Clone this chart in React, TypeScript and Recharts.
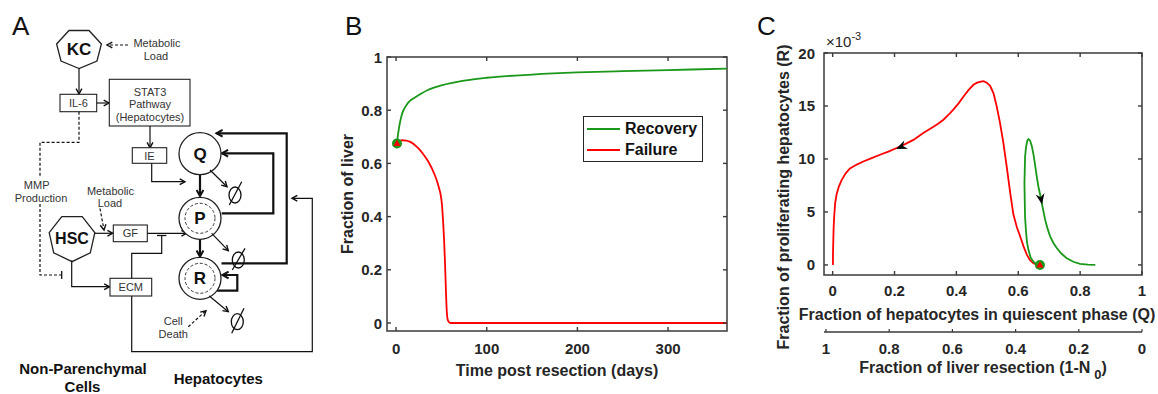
import React from 'react';
import { LineChart, Line, XAxis, YAxis, ReferenceDot, ReferenceArea, Legend } from 'recharts';

const FONT = "'Liberation Sans', Arial, Helvetica, sans-serif";
const AX = '#262626';
const FRAME = '#3a3a3a';
const GREEN = '#1a981a';
const RED = '#ff0000';

// ---------- Panel B data ----------
const SERIES_NAMES = ['Recovery', 'Failure'];
const B_REC_T = [1, 2, 3, 4, 5.5, 7, 9, 12, 15, 20, 27, 35, 50, 75, 100, 150, 200, 250, 300, 365];
const B_REC_V = [0.675, 0.705, 0.728, 0.748, 0.772, 0.79, 0.806, 0.822, 0.834, 0.846, 0.861, 0.876, 0.893, 0.911, 0.922, 0.934, 0.942, 0.947, 0.951, 0.956];
const B_FAIL_T = [1, 4, 7, 11, 15, 19, 22, 26, 29, 33, 37, 40, 42, 45, 47, 49, 50.5, 52, 53, 54, 55, 56, 57, 58.5, 60, 65, 100, 200, 300, 365];
const B_FAIL_V = [0.675, 0.684, 0.687, 0.686, 0.682, 0.674, 0.665, 0.652, 0.639, 0.62, 0.598, 0.578, 0.562, 0.535, 0.512, 0.485, 0.45, 0.375, 0.31, 0.225, 0.12, 0.04, 0.012, 0.003, 0, 0, 0, 0, 0, 0];
const B_X_TICKS = [0, 100, 200, 300];
const B_Y_TICKS = [0, 0.2, 0.4, 0.6, 0.8, 1];
const B_X_DOMAIN = [-10, 365];
const B_Y_DOMAIN = [-0.03, 1];
const B_START = { t: 1, v: 0.675 };

// ---------- Panel C data (R in units of 1e-3) ----------
const C_FAIL_Q = [0.670, 0.660, 0.649, 0.638, 0.628, 0.617, 0.606, 0.595, 0.584, 0.574, 0.563, 0.552, 0.541, 0.530, 0.520, 0.509, 0.498, 0.488, 0.479, 0.467, 0.455, 0.439, 0.423, 0.407, 0.390, 0.374, 0.358, 0.342, 0.326, 0.310, 0.293, 0.277, 0.261, 0.234, 0.207, 0.180, 0.153, 0.126, 0.099, 0.078, 0.056, 0.042, 0.029, 0.020, 0.013, 0.008, 0.005, 0.003, 0.002, 0.001, 0.001];
const C_FAIL_R = [0, 0.03, 0.16, 0.45, 0.95, 1.75, 2.7, 3.6, 4.8, 6.8, 9.2, 11.5, 13.4, 15.0, 16.2, 16.9, 17.2, 17.35, 17.3, 17.2, 17.0, 16.5, 15.9, 15.25, 14.65, 14.15, 13.7, 13.35, 13.05, 12.75, 12.45, 12.13, 11.8, 11.4, 11.03, 10.7, 10.4, 10.08, 9.76, 9.47, 9.1, 8.65, 8.0, 7.4, 6.7, 5.8, 4.6, 3.4, 2.2, 1.0, 0];
const C_REC_Q = [0.670, 0.660, 0.649, 0.640, 0.633, 0.628, 0.625, 0.622, 0.621, 0.620, 0.621, 0.622, 0.625, 0.629, 0.633, 0.638, 0.644, 0.650, 0.655, 0.660, 0.665, 0.671, 0.677, 0.687, 0.695, 0.703, 0.714, 0.725, 0.740, 0.757, 0.778, 0.800, 0.825, 0.849];
const C_REC_R = [0, 0.05, 0.3, 0.7, 1.4, 2.2, 3.2, 4.5, 6.0, 7.7, 9.0, 10.2, 11.1, 11.7, 11.88, 11.75, 11.2, 10.3, 9.3, 8.3, 7.4, 6.6, 5.7, 4.25, 3.4, 2.7, 2.05, 1.57, 1.05, 0.63, 0.3, 0.1, 0.02, 0];
const C_X_TICKS = [0, 0.2, 0.4, 0.6, 0.8, 1];
const C_Y_TICKS = [0, 5, 10, 15, 20];
const C_N0_TICKS = [0, 0.2, 0.4, 0.6, 0.8, 1];
const C_X_DOMAIN = [-0.028, 1];
const C_Y_DOMAIN = [-0.95, 20];
const C_N0_DOMAIN = [0, 1];
const C_START = { q: 0.67, r: 0 };
const C_ARROWS = [
  { q: 0.205, r: 10.94, angle: 156 },
  { q: 0.677, r: 5.7, angle: 79 },
];

const bRecovery = B_REC_T.map((t, i) => ({ t, v: B_REC_V[i] }));
const bFailure = B_FAIL_T.map((t, i) => ({ t, v: B_FAIL_V[i] }));
const cRecovery = C_REC_Q.map((q, i) => ({ q, r: C_REC_R[i] }));
const cFailure = C_FAIL_Q.map((q, i) => ({ q, r: C_FAIL_R[i] }));
const cN0Span = C_N0_DOMAIN.map((n) => ({ n, r: 0 }));

// tick-mark anchor points on the four sides of each box
const sideTicks = (xt: number[], yt: number[], xd: number[], yd: number[]) => [
  ...xt.map((x) => ({ x, y: yd[0], dir: 'up' })),
  ...xt.map((x) => ({ x, y: yd[1], dir: 'down' })),
  ...yt.map((y) => ({ x: xd[0], y, dir: 'right' })),
  ...yt.map((y) => ({ x: xd[1], y, dir: 'left' })),
];
const bTickMarks = sideTicks(B_X_TICKS, B_Y_TICKS, B_X_DOMAIN, B_Y_DOMAIN);
const cTickMarks = sideTicks(C_X_TICKS, C_Y_TICKS, C_X_DOMAIN, C_Y_DOMAIN);

const labelFont = { fill: AX, fontSize: 15, fontWeight: 700, fontFamily: FONT };
const titleStyle: React.CSSProperties = { fill: AX, fontSize: 16, fontWeight: 700, fontFamily: FONT };

const TICK_D: Record<string, [number, number]> = { up: [0, -4], down: [0, 4], right: [4, 0], left: [-4, 0] };
const tickMarkShape = (dir: string) => (p: any) => {
  const [dx, dy] = TICK_D[dir];
  return <path d={`M${p.cx},${p.cy}l${dx},${dy}`} stroke={FRAME} strokeWidth={1.4} fill="none" />;
};

const xTickLabel = (dy: number) => (p: any) => (
  <text x={p.x} y={p.y + dy} textAnchor="middle" dominantBaseline="central" style={labelFont}>{String(p.payload.value)}</text>
);
const yTickLabel = (p: any) => (
  <text x={p.x} y={p.y} textAnchor="end" dominantBaseline="central" style={labelFont}>{String(p.payload.value)}</text>
);
const n0Tick = (margin: number) => (p: any) => {
  const axisY = p.y - margin;
  return (
    <g>
      <path d={`M${p.x},${axisY}V${axisY - 3}`} stroke={FRAME} strokeWidth={1.2} fill="none" />
      <text x={p.x} y={p.y + 3} textAnchor="middle" dominantBaseline="central" style={labelFont}>{String(p.payload.value)}</text>
    </g>
  );
};

const StartMarker = (p: any) => {
  const { cx, cy } = p;
  return (
    <g>
      <circle cx={cx} cy={cy} r={5} fill={GREEN} />
      <path d={`M${cx - 3.6},${cy + 2.6} L${cx + 3.6},${cy + 2.6} L${cx},${cy - 3.6} Z`} fill={RED} />
    </g>
  );
};

const makeArrow = (angle: number) => (p: any) => (
  <path transform={`translate(${p.cx},${p.cy}) rotate(${angle})`} d="M0,0 L-11,-4.5 L-7.5,0 L-11,4.5 Z" fill="#000" />
);

const bXTitle = (props: any) => {
  const vb = props.viewBox;
  return (
    <text x={vb.x + vb.width / 2} y={vb.y + 39} textAnchor="middle" dominantBaseline="central" style={titleStyle}>
      Time post resection (days)
    </text>
  );
};
const bYTitle = (props: any) => {
  const vb = props.viewBox;
  const cx = vb.x + 17;
  const cy = vb.y + vb.height / 2;
  return (
    <text x={cx} y={cy} transform={`rotate(-90, ${cx}, ${cy})`} textAnchor="middle" dominantBaseline="central" style={titleStyle}>
      Fraction of liver
    </text>
  );
};
const cXTitle = (props: any) => {
  const vb = props.viewBox;
  return (
    <text x={vb.x + vb.width / 2 - 6} y={vb.y + 39} textAnchor="middle" dominantBaseline="central" style={titleStyle}>
      Fraction of hepatocytes in quiescent phase (Q)
    </text>
  );
};
const cN0Title = (props: any) => {
  const vb = props.viewBox;
  return (
    <text x={vb.x + vb.width / 2} y={vb.y + 35} textAnchor="middle" dominantBaseline="central" style={titleStyle}>
      Fraction of liver resection (1-N<tspan dx={4} dy={7} fontSize={13}>0</tspan><tspan dy={-7}>)</tspan>
    </text>
  );
};
const cYTitle = (props: any) => {
  const vb = props.viewBox;
  const cx = vb.x + 53;
  const cy = vb.y + vb.height / 2 + 33;
  return (
    <g>
      <text x={cx} y={cy} transform={`rotate(-90, ${cx}, ${cy})`} textAnchor="middle" dominantBaseline="central" style={titleStyle}>
        Fraction of proliferating hepatocytes (R)
      </text>
      <text x={vb.x + vb.width + 2} y={vb.y - 6} style={{ fill: AX, fontSize: 15, fontFamily: FONT }}>
        ×10<tspan dy={-7} fontSize={11}>-3</tspan>
      </text>
    </g>
  );
};

const LegendBox = (props: any) => {
  const items = [...(props.payload || [])]
    .filter((it: any) => SERIES_NAMES.includes(it.value))
    .sort((a: any, b: any) => SERIES_NAMES.indexOf(a.value) - SERIES_NAMES.indexOf(b.value));
  return (
    <div style={{ width: 120, height: 46, border: '1.3px solid #262626', background: '#fff', boxSizing: 'border-box', paddingTop: 1 }}>
      {items.map((it: any) => (
        <div key={it.value} style={{ display: 'flex', alignItems: 'center', height: 21.5 }}>
          <span style={{ display: 'inline-block', width: 33, height: 0, borderTop: `2px solid ${it.color}`, marginLeft: 3, marginRight: 5 }} />
          <span style={{ fontFamily: FONT, fontWeight: 700, fontSize: 16, color: '#111' }}>{it.value}</span>
        </div>
      ))}
    </div>
  );
};

// ---------- Panel A (schematic) ----------
const heptagon = (cx: number, cy: number, rx: number, ry: number) => {
  const pts: string[] = [];
  for (let k = 0; k < 7; k++) {
    const a = Math.PI / 2 + (k * 2 * Math.PI) / 7;
    pts.push(`${(cx + rx * Math.cos(a)).toFixed(1)},${(cy + ry * Math.sin(a)).toFixed(1)}`);
  }
  return pts.join(' ');
};

const txt: React.CSSProperties = { fontFamily: FONT, fontSize: 11, fill: '#333' };
const bold = (size: number): React.CSSProperties => ({ fontFamily: FONT, fontSize: size, fontWeight: 700, fill: '#111' });
const letterStyle: React.CSSProperties = { fontFamily: FONT, fontSize: 26, fill: '#111' };

const Arr = ({ pts, kind = 'thin', head = true }: { pts: number[][]; kind?: string; head?: boolean }) => {
  const sw = kind === 'thick' ? 2.2 : 1.2;
  const dash = kind === 'dash' ? '3,2' : undefined;
  const n = pts.length;
  const [x2, y2] = pts[n - 1];
  const [x1, y1] = pts[n - 2];
  const a = Math.atan2(y2 - y1, x2 - x1);
  const s = kind === 'thick' ? 7 : 6;
  const w = 0.5;
  const h1 = [x2 - s * Math.cos(a - w), y2 - s * Math.sin(a - w)];
  const h2 = [x2 - s * Math.cos(a + w), y2 - s * Math.sin(a + w)];
  return (
    <g>
      <polyline points={pts.map((p) => p.join(',')).join(' ')} fill="none" stroke="#111" strokeWidth={sw} strokeDasharray={dash} />
      {head && (
        <path d={`M${h1[0].toFixed(1)},${h1[1].toFixed(1)}L${x2},${y2}L${h2[0].toFixed(1)},${h2[1].toFixed(1)}`}
          fill="none" stroke="#111" strokeWidth={kind === 'thick' ? 2 : 1.4} />
      )}
    </g>
  );
};

const Phi = ({ x, y, s }: { x: number; y: number; s: number[] }) => (
  <g>
    <ellipse cx={x} cy={y} rx={6} ry={8} fill="none" stroke="#111" strokeWidth={1.3} />
    <path d={`M${s[0]},${s[1]}L${s[2]},${s[3]}`} stroke="#111" strokeWidth={1.3} />
  </g>
);

const Diagram = () => (
  <div style={{ position: 'absolute', left: 0, top: 0, width: 328, height: 394, overflow: 'hidden' }}>
    <svg width={328} height={394}>
      <text x={12} y={35} style={letterStyle}>A</text>

      <polygon points={heptagon(79, 48.5, 23, 20)} fill="#fff" stroke="#222" strokeWidth={1.3} />
      <text x={79} y={49} textAnchor="middle" dominantBaseline="central" style={bold(17)}>KC</text>
      <Arr pts={[[128, 45], [107, 45]]} kind="dash" />
      <text x={157} y={43} textAnchor="middle" dominantBaseline="central" style={txt}>Metabolic</text>
      <text x={156} y={55.5} textAnchor="middle" dominantBaseline="central" style={txt}>Load</text>
      <Arr pts={[[79, 68.5], [79, 94]]} />

      <rect x={60} y={94.3} width={36.7} height={17.4} fill="#fff" stroke="#222" strokeWidth={1.1} />
      <text x={78.4} y={103} textAnchor="middle" dominantBaseline="central" style={txt}>IL-6</text>
      <Arr pts={[[96.7, 103], [109, 103]]} />

      <rect x={109.3} y={79.3} width={80.7} height={46.7} fill="#fff" stroke="#222" strokeWidth={1.1} />
      <text x={150} y={91.5} textAnchor="middle" dominantBaseline="central" style={txt}>STAT3</text>
      <text x={150} y={104} textAnchor="middle" dominantBaseline="central" style={txt}>Pathway</text>
      <text x={150} y={116.5} textAnchor="middle" dominantBaseline="central" style={txt}>(Hepatocytes)</text>
      <Arr pts={[[150, 126], [150, 147.7]]} />

      <rect x={132.3} y={147.7} width={34.4} height={15.6} fill="#fff" stroke="#222" strokeWidth={1.1} />
      <text x={149.5} y={155.5} textAnchor="middle" dominantBaseline="central" style={txt}>IE</text>
      <Arr pts={[[151.7, 163.3], [151.7, 181.7], [185, 181.7]]} />

      <Arr pts={[[79, 111.7], [79, 142.3], [40, 142.3], [40, 176]]} kind="dash" head={false} />
      <Arr pts={[[40, 204], [40, 275], [61.7, 275]]} kind="dash" head={false} />
      <path d="M61.7,271V279" stroke="#111" strokeWidth={1.3} />
      <text x={36.7} y={185} textAnchor="middle" dominantBaseline="central" style={txt}>MMP</text>
      <text x={41} y={198} textAnchor="middle" dominantBaseline="central" style={txt}>Production</text>

      <text x={110.5} y={190.7} textAnchor="middle" dominantBaseline="central" style={txt}>Metabolic</text>
      <text x={110} y={203.3} textAnchor="middle" dominantBaseline="central" style={txt}>Load</text>
      <Arr pts={[[100, 208.5], [104, 230]]} kind="dash" />

      <polygon points={heptagon(72, 238, 23.4, 23.7)} fill="#fff" stroke="#222" strokeWidth={1.3} />
      <text x={72} y={238} textAnchor="middle" dominantBaseline="central" style={bold(16)}>HSC</text>
      <Arr pts={[[94.3, 233.3], [112.7, 233.3]]} />
      <Arr pts={[[71.7, 260.5], [71.7, 286.7], [109.5, 286.7]]} />

      <rect x={113.3} y={225} width={34} height={16.7} fill="#fff" stroke="#222" strokeWidth={1.1} />
      <text x={130.3} y={233.3} textAnchor="middle" dominantBaseline="central" style={txt}>GF</text>
      <Arr pts={[[147.3, 233.3], [186.7, 233.3]]} />

      <rect x={110} y={278.3} width={41.7} height={17.7} fill="#fff" stroke="#222" strokeWidth={1.1} />
      <text x={130.8} y={287.2} textAnchor="middle" dominantBaseline="central" style={txt}>ECM</text>
      <Arr pts={[[131.7, 278.3], [131.7, 253.3], [161.7, 253.3], [161.7, 235.5]]} head={false} />
      <path d="M157,235.5H166.4" stroke="#111" strokeWidth={1.3} />
      <Arr pts={[[131.7, 296], [131.7, 351.7], [312.3, 351.7], [312.3, 198.3], [292, 198.3]]} />

      <Arr pts={[[221.7, 213.3], [273.3, 213.3], [273.3, 153.3], [222, 153.3]]} kind="thick" />
      <Arr pts={[[221.5, 263.3], [286.7, 263.3], [286.7, 133.3], [216.5, 133.3]]} kind="thick" />
      <Arr pts={[[216.7, 290.7], [237.3, 290.7], [237.3, 275], [222.5, 275]]} kind="thick" />

      <circle cx={200} cy={153.7} r={21} fill="#fff" stroke="#222" strokeWidth={1.3} />
      <text x={200} y={154} textAnchor="middle" dominantBaseline="central" style={bold(17)}>Q</text>
      <Arr pts={[[200, 175], [200, 196]]} kind="thick" />
      <circle cx={200} cy={218.3} r={21} fill="#fff" stroke="#222" strokeWidth={1.3} />
      <circle cx={200} cy={218.3} r={15} fill="none" stroke="#333" strokeWidth={1} strokeDasharray="3,2" />
      <text x={200} y={218.5} textAnchor="middle" dominantBaseline="central" style={bold(17)}>P</text>
      <Arr pts={[[200, 239.5], [200, 256.7]]} kind="thick" />
      <circle cx={200} cy={278.3} r={21} fill="#fff" stroke="#222" strokeWidth={1.3} />
      <circle cx={200} cy={278.3} r={15} fill="none" stroke="#333" strokeWidth={1} strokeDasharray="3,2" />
      <text x={200} y={278.5} textAnchor="middle" dominantBaseline="central" style={bold(17)}>R</text>

      <Arr pts={[[210, 170], [227, 186.7]]} />
      <Phi x={235} y={195} s={[229.3, 205, 241.7, 181.7]} />
      <Arr pts={[[211.7, 233.3], [228.3, 250.7]]} />
      <Phi x={238.3} y={260} s={[232.3, 270, 245, 248.3]} />
      <Arr pts={[[209.3, 296], [228.3, 311.7]]} />
      <Phi x={237.3} y={321.7} s={[231.7, 333.3, 244, 308.3]} />

      <text x={173.3} y={321} textAnchor="middle" dominantBaseline="central" style={txt}>Cell</text>
      <text x={173.3} y={334.3} textAnchor="middle" dominantBaseline="central" style={txt}>Death</text>
      <Arr pts={[[188.3, 326.7], [206, 310.7]]} kind="dash" />

      <text x={83} y={368.3} textAnchor="middle" dominantBaseline="central" style={bold(15)}>Non-Parenchymal</text>
      <text x={82.5} y={386.5} textAnchor="middle" dominantBaseline="central" style={bold(15)}>Cells</text>
      <text x={218.3} y={378.3} textAnchor="middle" dominantBaseline="central" style={bold(15)}>Hepatocytes</text>
    </svg>
  </div>
);

const PanelLetter = ({ left, ch }: { left: number; ch: string }) => (
  <div style={{ position: 'absolute', left, top: 0, width: 30, height: 40 }}>
    <svg width={30} height={40}>
      <text x={0} y={35} style={letterStyle}>{ch}</text>
    </svg>
  </div>
);

const ChartB = () => (
  <div style={{ position: 'absolute', left: 330, top: 0 }}>
    <LineChart width={400} height={394} margin={{ top: 57, right: 3, bottom: 33, left: 0 }}>
      <XAxis dataKey="t" type="number" domain={B_X_DOMAIN} allowDataOverflow ticks={B_X_TICKS} interval={0} height={30}
        axisLine={false} tickLine={false} tickSize={0} tickMargin={12} tick={xTickLabel(5)} label={{ content: bXTitle }} />
      <YAxis type="number" domain={B_Y_DOMAIN} allowDataOverflow ticks={B_Y_TICKS} interval={0} width={57}
        axisLine={false} tickLine={false} tickSize={0} tickMargin={5} tick={yTickLabel} label={{ content: bYTitle }} />
      <ReferenceArea x1={B_X_DOMAIN[0]} x2={B_X_DOMAIN[1]} y1={B_Y_DOMAIN[0]} y2={B_Y_DOMAIN[1]} ifOverflow="visible"
        fill="none" stroke={FRAME} strokeWidth={1.5} />
      {bTickMarks.map((m, i) => (
        <ReferenceDot key={`bt${i}`} x={m.x} y={m.y} r={1} ifOverflow="visible" shape={tickMarkShape(m.dir)} />
      ))}
      <Line data={bRecovery} dataKey="v" name={SERIES_NAMES[0]} stroke={GREEN} strokeWidth={1.8} dot={false} type="monotone" isAnimationActive={false} />
      <Line data={bFailure} dataKey="v" name={SERIES_NAMES[1]} stroke={RED} strokeWidth={1.8} dot={false} type="monotone" isAnimationActive={false} />
      <ReferenceDot x={B_START.t} y={B_START.v} r={5} shape={StartMarker} />
      <Legend layout="horizontal" verticalAlign="middle" align="center" content={LegendBox}
        wrapperStyle={{ position: 'absolute', left: 253, top: 116, width: 120, height: 46 }} />
    </LineChart>
  </div>
);

const ChartC = () => (
  <div style={{ position: 'absolute', left: 730, top: 0 }}>
    <LineChart width={428} height={394} margin={{ top: 53, right: 16, bottom: 32, left: 0 }}>
      <XAxis dataKey="q" type="number" domain={C_X_DOMAIN} allowDataOverflow ticks={C_X_TICKS} interval={0} height={57}
        axisLine={false} tickLine={false} tickSize={0} tickMargin={10} tick={xTickLabel(5)} label={{ content: cXTitle }} />
      <XAxis xAxisId="n0" dataKey="n" type="number" domain={C_N0_DOMAIN} reversed ticks={C_N0_TICKS} interval={0} height={30}
        padding={{ left: 2, right: 0 }} stroke={FRAME} axisLine={{ stroke: FRAME, strokeWidth: 1.3 }} tickLine={false}
        tickSize={0} tickMargin={13} tick={n0Tick(13)} label={{ content: cN0Title }} />
      <YAxis type="number" domain={C_Y_DOMAIN} allowDataOverflow ticks={C_Y_TICKS} interval={0} width={94}
        axisLine={false} tickLine={false} tickSize={0} tickMargin={9} tick={yTickLabel} label={{ content: cYTitle }} />
      <ReferenceArea x1={C_X_DOMAIN[0]} x2={C_X_DOMAIN[1]} y1={C_Y_DOMAIN[0]} y2={C_Y_DOMAIN[1]} ifOverflow="visible"
        fill="none" stroke={FRAME} strokeWidth={1.5} />
      {cTickMarks.map((m, i) => (
        <ReferenceDot key={`ct${i}`} x={m.x} y={m.y} r={1} ifOverflow="visible" shape={tickMarkShape(m.dir)} />
      ))}
      <Line xAxisId="n0" data={cN0Span} dataKey="r" stroke="none" strokeWidth={0} dot={false} legendType="none" isAnimationActive={false} />
      <Line data={cFailure} dataKey="r" name={SERIES_NAMES[1]} stroke={RED} strokeWidth={1.8} dot={false} type="linear" isAnimationActive={false} />
      <Line data={cRecovery} dataKey="r" name={SERIES_NAMES[0]} stroke={GREEN} strokeWidth={1.8} dot={false} type="linear" isAnimationActive={false} />
      {C_ARROWS.map((a, i) => (
        <ReferenceDot key={i} x={a.q} y={a.r} r={4} shape={makeArrow(a.angle)} />
      ))}
      <ReferenceDot x={C_START.q} y={C_START.r} r={5} shape={StartMarker} />
    </LineChart>
  </div>
);

export default function App() {
  return (
    <div style={{ position: 'absolute', left: 0, top: 0, width: 1158, height: 394, background: '#fff', overflow: 'hidden' }}>
      <Diagram />
      <ChartB />
      <ChartC />
      <PanelLetter left={345} ch="B" />
      <PanelLetter left={757} ch="C" />
    </div>
  );
}
